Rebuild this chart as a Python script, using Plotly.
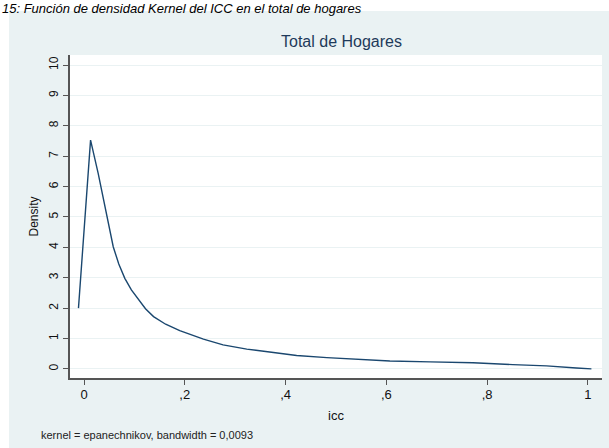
import plotly.graph_objects as go

# kernel density of icc
icc = [-0.011, 0.013, 0.028, 0.042, 0.058, 0.069, 0.081, 0.094, 0.108, 0.122,
       0.138, 0.162, 0.190, 0.237, 0.276, 0.323, 0.376, 0.422, 0.482, 0.548,
       0.607, 0.687, 0.772, 0.851, 0.918, 0.977, 1.007]
density = [2.0, 7.53, 6.44, 5.34, 4.02, 3.45, 2.98, 2.6, 2.27, 1.98,
           1.72, 1.47, 1.26, 0.98, 0.79, 0.65, 0.54, 0.44, 0.37, 0.32,
           0.26, 0.23, 0.20, 0.14, 0.10, 0.03, 0.0]
xtick_vals = [0, 0.2, 0.4, 0.6, 0.8, 1]
xtick_text = ["0", ",2", ",4", ",6", ",8", "1"]
ytick_vals = list(range(0, 11))

bg = "#eaf2f3"
fnt = "Liberation Sans, Arial, sans-serif"

fig = go.Figure(go.Scatter(x=icc, y=density, mode="lines",
                           line=dict(color="#1a476f", width=1.4)))

# white strips outside the stata panel (top and left)
fig.add_shape(type="rect", xref="paper", yref="paper",
              x0=-0.2, x1=1.1, y0=1.136, y1=1.3,
              fillcolor="white", line_width=0, layer="below")
fig.add_shape(type="rect", xref="paper", yref="paper",
              x0=-0.2, x1=-0.1147, y0=-0.3, y1=1.3,
              fillcolor="white", line_width=0, layer="below")

fig.add_annotation(text="Total de Hogares", xref="paper", yref="paper",
                   x=0.51, y=1.043, yanchor="middle", showarrow=False,
                   font=dict(size=16, color="#1e3a5a", family=fnt))
fig.add_annotation(text="kernel = epanechnikov, bandwidth = 0,0093",
                   xref="paper", yref="paper", x=-0.058, y=-0.176,
                   xanchor="left", yanchor="middle", showarrow=False,
                   font=dict(size=11, color="#222", family=fnt))
fig.add_annotation(text="<i>15: Función de densidad Kernel del ICC en el total de hogares</i>",
                   xref="paper", yref="paper", x=-0.13, y=1.17,
                   xanchor="left", yanchor="top", showarrow=False, borderpad=0,
                   font=dict(size=13, color="#000", family=fnt))

fig.update_xaxes(range=[-0.0278, 1.028], tickvals=xtick_vals, ticktext=xtick_text,
                 showgrid=False, zeroline=False, showline=True, linecolor="#555",
                 linewidth=2, ticks="outside", ticklen=5, tickcolor="#555",
                 ticklabelstandoff=-2, automargin=False,
                 tickfont=dict(size=13, color="#111", family=fnt),
                 title=dict(text="icc", standoff=10,
                            font=dict(size=13, color="#111", family=fnt)))
fig.update_yaxes(range=[-0.3, 10.33], tickvals=ytick_vals, tickangle=-90,
                 showgrid=True, gridcolor=bg, gridwidth=1, zeroline=False,
                 showline=True, linecolor="#555", linewidth=2,
                 ticks="outside", ticklen=5, tickcolor="#555",
                 ticklabelstandoff=0, automargin=False,
                 tickfont=dict(size=12, color="#111", family=fnt),
                 title=dict(text="Density", standoff=6,
                            font=dict(size=12, color="#111", family=fnt)))

fig.update_layout(width=609, height=448, showlegend=False,
                  paper_bgcolor=bg, plot_bgcolor="white",
                  margin=dict(l=70, r=7, t=55, b=70))

# page body has an 8px default margin; drop it so the figure sits at 0,0
fig.write_html("out.html", config={"displayModeBar": False},
               post_script="document.body.style.margin='0';")
